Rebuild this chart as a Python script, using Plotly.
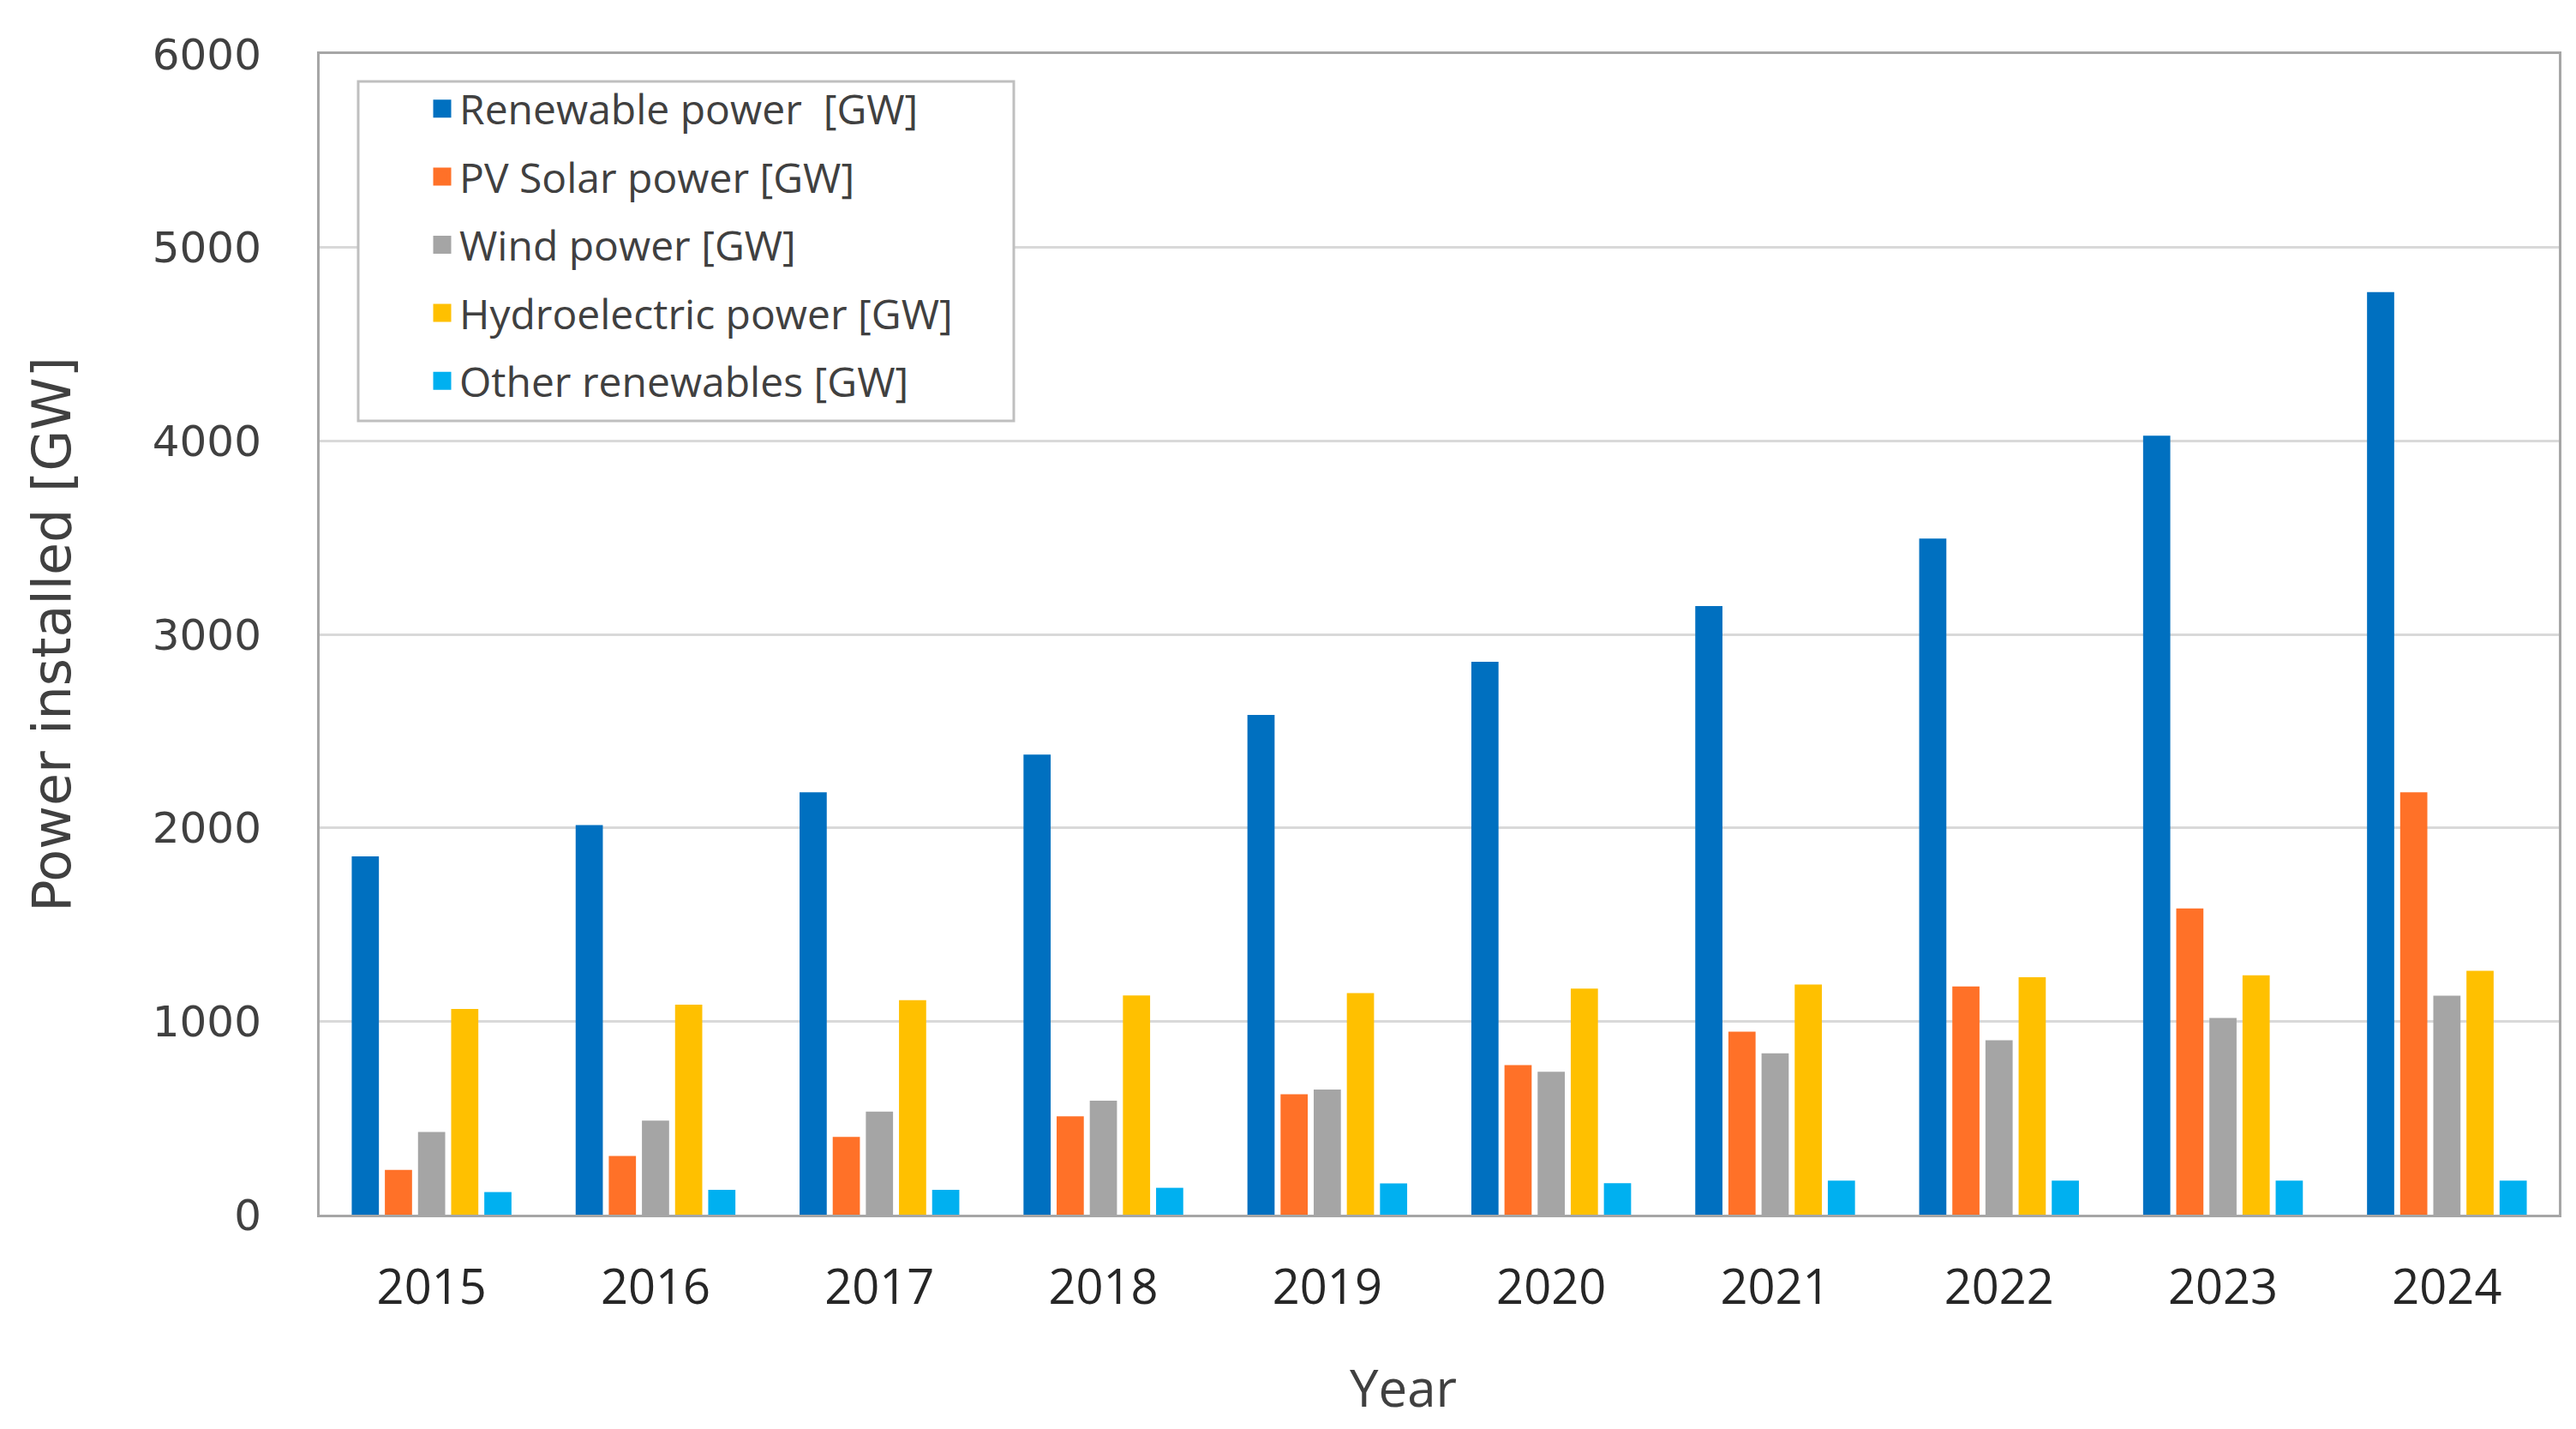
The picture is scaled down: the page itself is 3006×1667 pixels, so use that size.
import plotly.graph_objects as go

years = ["2015", "2016", "2017", "2018", "2019", "2020", "2021", "2022", "2023", "2024"]
renewable = [1852, 2014, 2184, 2379, 2583, 2858, 3146, 3495, 4027, 4769]
pv_solar = [232, 303, 402, 508, 623, 773, 946, 1180, 1583, 2183]
wind = [428, 486, 533, 589, 647, 739, 834, 902, 1017, 1132]
hydro = [1063, 1086, 1109, 1133, 1145, 1169, 1190, 1227, 1237, 1261]
other = [117, 128, 128, 139, 162, 163, 176, 176, 176, 176]

series_names = ["Renewable power  [GW]", "PV Solar power [GW]", "Wind power [GW]",
                "Hydroelectric power [GW]", "Other renewables [GW]"]
series_values = [renewable, pv_solar, wind, hydro, other]
colors = ["#0070C0", "#FF7128", "#A5A5A5", "#FFC000", "#00B0F0"]

y_ticks = [0, 1000, 2000, 3000, 4000, 5000, 6000]

fig = go.Figure()
for name, vals, col in zip(series_names, series_values, colors):
    fig.add_trace(go.Bar(x=years, y=vals, name=name, marker_color=col,
                         marker_line_width=0, showlegend=False))
# legend entries (square swatches)
for i, (name, col) in enumerate(zip(series_names, colors)):
    fig.add_trace(go.Scatter(x=[None], y=[None], mode="markers", name=name,
                             legendgroup=f"g{i}",
                             marker=dict(symbol="square", size=16, color=col,
                                         line=dict(color=col, width=5))))

W, H = 3006, 1667
L, R, T, B = 365, 28, 55, 258
pw = W - L - R
ph = H - T - B

def px_x(p):
    return (p - L) / pw

def px_y(p):
    return (H - B - p) / ph

fig.add_shape(type="rect", xref="paper", yref="paper",
              x0=px_x(410), x1=px_x(1175), y0=px_y(483), y1=px_y(87),
              fillcolor="white", line=dict(color="#BFBFBF", width=3), layer="above")

fig.add_annotation(text="Year", xref="paper", yref="paper",
                   x=px_x(1629), y=px_y(1610), xanchor="center", yanchor="middle",
                   showarrow=False,
                   font=dict(family="Open Sans", size=60, color="#404040"))

fig.update_layout(
    width=W, height=H,
    margin=dict(l=L, r=R, t=T, b=B),
    paper_bgcolor="white", plot_bgcolor="white",
    barmode="group", bargap=0.26, bargroupgap=0.18,
    legend=dict(x=px_x(488), y=px_y(81), xanchor="left", yanchor="top",
                bgcolor="rgba(0,0,0,0)", borderwidth=0,
                traceorder="grouped", tracegroupgap=14,
                font=dict(family="Open Sans", size=48, color="#404040")),
    xaxis=dict(
        type="category", showgrid=False, ticks="",
        tickfont=dict(family="Open Sans", size=56, color="#262626"),
        ticklabelstandoff=34,
        showline=True, linecolor="#A6A6A6", linewidth=3, mirror=True,
    ),
    yaxis=dict(
        range=[0, 6000], tickvals=y_ticks, ticktext=[str(v) for v in y_ticks],
        showgrid=True, gridcolor="#D9D9D9", gridwidth=3, zeroline=False, ticks="",
        tickfont=dict(family="DejaVu Sans", size=50, color="#404040"),
        ticklabelstandoff=55,
        showline=True, linecolor="#A6A6A6", linewidth=3, mirror=True,
        title=dict(text="Power installed [GW]",
                   font=dict(family="DejaVu Sans", size=62, color="#404040"),
                   standoff=76),
    ),
)

fig.write_html("out.html")
